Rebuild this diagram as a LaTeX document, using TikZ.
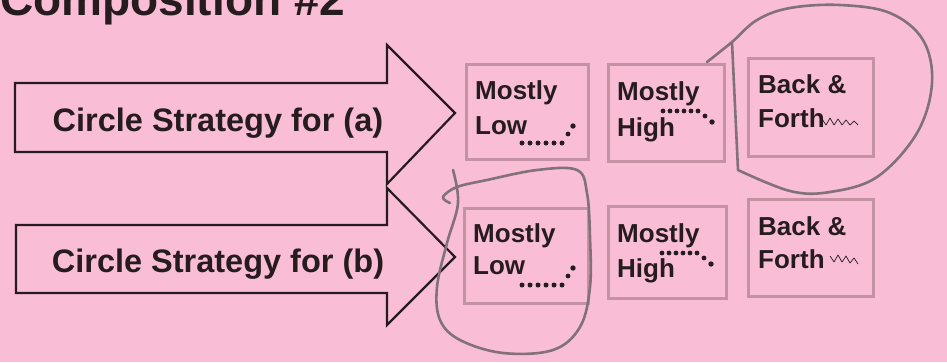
\documentclass[tikz,border=0pt]{standalone}
\usepackage{fontspec}
\setmainfont{Liberation Sans}
\definecolor{bg}{RGB}{249,189,213}
\definecolor{boxborder}{RGB}{196,146,163}
\definecolor{pencilc}{RGB}{128,114,120}
\definecolor{ink}{RGB}{38,28,32}
\begin{document}
\begin{tikzpicture}[x=1pt,y=-1pt,
  boxst/.style={draw=boxborder, line width=2.6pt, inner sep=0, anchor=north west},
  arrowst/.style={draw=ink, line width=2.2pt, line join=miter},
  lbl/.style={anchor=base west, inner sep=0, font=\fontsize{26}{26}\selectfont\bfseries, text=ink},
  arrlbl/.style={anchor=base, inner sep=0, font=\fontsize{32.5}{32.5}\selectfont\bfseries, text=ink},
  pencil/.style={draw=pencilc, line width=2.6pt, line cap=round, line join=round},
  squig/.style={draw=ink, line width=0.7pt, line join=round}]
\useasboundingbox[fill=bg] (0,0) rectangle (947,362);

% title (cut off at the top, as in the reference)
\node[anchor=base west, inner sep=0, font=\fontsize{46}{46}\selectfont\bfseries, text=ink] (title) at (0,15) {Composition \#2};

% arrows
\draw[arrowst] (15,83) -- (387,83) -- (387,45) -- (455,113) -- (387,184) -- (387,152) -- (15,152) -- cycle;
\node[arrlbl] (arra) at (218,131) {Circle Strategy for (a)};
\draw[arrowst] (16,225) -- (387,225) -- (387,188) -- (455,257) -- (387,325) -- (387,293) -- (16,293) -- cycle;
\node[arrlbl] (arrb) at (218,272) {Circle Strategy for (b)};

% row 1 boxes
\node[boxst, minimum width=122pt, minimum height=95pt] (b1) at (465,63) {};
\node[boxst, minimum width=116pt, minimum height=97pt] (b2) at (607,63) {};
\node[boxst, minimum width=125pt, minimum height=98pt] (b3) at (747,57) {};
% row 2 boxes
\node[boxst, minimum width=124pt, minimum height=95pt] (c1) at (463,207) {};
\node[boxst, minimum width=118pt, minimum height=92pt] (c2) at (607,205) {};
\node[boxst, minimum width=125pt, minimum height=97pt] (c3) at (747,198) {};

% row 1 labels
\node[lbl] (b1a) at (475,99) {Mostly};
\node[lbl] (b1b) at (475,134) {Low};
\node[lbl] (b2a) at (617,100) {Mostly};
\node[lbl] (b2b) at (617,136) {High};
\node[lbl] (b3a) at (758,93) {Back \&};
\node[lbl] (b3b) at (758,127) {Forth};
% row 2 labels
\node[lbl] (c1a) at (473,242) {Mostly};
\node[lbl] (c1b) at (473,274) {Low};
\node[lbl] (c2a) at (617,242) {Mostly};
\node[lbl] (c2b) at (617,277) {High};
\node[lbl] (c3a) at (758,235) {Back \&};
\node[lbl] (c3b) at (758,268) {Forth};

% dot trails
\foreach \x in {522,530,538,546,554,562} \fill[ink] (\x,143) circle (2.5);
\fill[ink] (568,134) circle (2.4) (573,126) circle (2.7);
\foreach \x in {663,670,677,684,691,698} \fill[ink] (\x,111) circle (2.4);
\fill[ink] (705,116) circle (2.4) (712,122) circle (2.7);
\foreach \x in {522,530,538,546,554,562} \fill[ink] (\x,285) circle (2.5);
\fill[ink] (568,276) circle (2.4) (573,268) circle (2.7);
\foreach \x in {662,669,676,683,690,697} \fill[ink] (\x,253) circle (2.4);
\fill[ink] (704,258) circle (2.4) (711,264) circle (2.7);

% zigzags
\draw[squig] (822,119) -- (826,125) -- (830,118) -- (834,125) -- (838,119) -- (842,125) -- (846,120) -- (850,125) -- (854,121) -- (858,125);
\draw[squig] (830,256) -- (834,262) -- (838,255) -- (842,262) -- (846,256) -- (850,263) -- (854,258) -- (858,264);

% pencil loops
\draw[pencil] plot[smooth, tension=0.6] coordinates {(707,62) (732,42) (757,20) (790,8) (840,5) (890,13) (923,40) (932,83) (917,133) (877,177) (830,192) (790,191) (738,170)} -- (732,42);
\draw[pencil] plot[smooth, tension=0.6] coordinates {(453,170) (458,203) (447,243) (437,287) (440,320) (460,340) (503,353) (553,350) (580,327) (590,287) (590,237) (587,193) (577,170) (537,170) (487,180) (457,187) (443,197) (450,203)};
\end{tikzpicture}
\end{document}
